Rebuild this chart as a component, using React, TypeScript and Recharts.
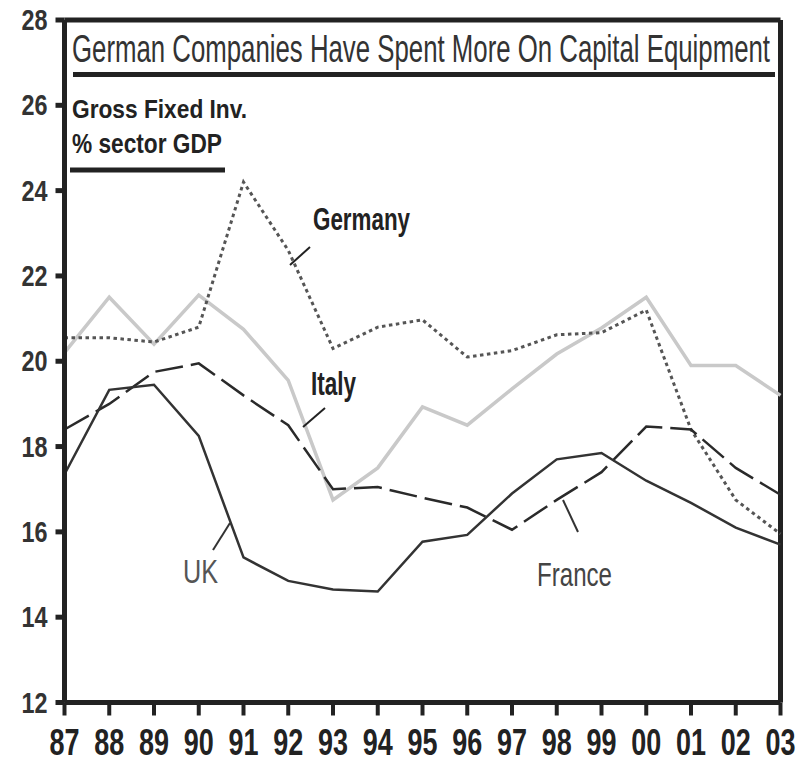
import { LineChart, Line, XAxis, YAxis, ReferenceLine } from 'recharts';

const years = ['87', '88', '89', '90', '91', '92', '93', '94', '95', '96', '97', '98', '99', '00', '01', '02', '03'];
const germany = [20.55, 20.55, 20.45, 20.8, 24.2, 22.6, 20.3, 20.8, 20.97, 20.1, 20.25, 20.62, 20.67, 21.2, 18.4, 16.75, 15.95];
const italy = [20.2, 21.5, 20.4, 21.55, 20.75, 19.55, 16.75, 17.5, 18.93, 18.5, 19.35, 20.17, 20.78, 21.5, 19.9, 19.9, 19.2];
const france = [18.4, 19.0, 19.75, 19.95, 19.2, 18.5, 17.0, 17.05, 16.8, 16.57, 16.05, 16.75, 17.4, 18.47, 18.4, 17.5, 16.87];
const uk = [17.35, 19.33, 19.45, 18.25, 15.4, 14.85, 14.65, 14.6, 15.77, 15.93, 16.9, 17.7, 17.85, 17.2, 16.68, 16.1, 15.7];
const yTicks = [12, 14, 16, 18, 20, 22, 24, 26, 28];

const data = years.map((year, i) => ({
  year,
  germany: germany[i],
  italy: italy[i],
  france: france[i],
  uk: uk[i],
}));

const font = '"Liberation Sans", Arial, sans-serif';
const ink = '#222';

const YTick = ({ x, y, payload }: any) => (
  <text
    x={x - 6}
    y={y + 10}
    textAnchor="end"
    fontFamily={font}
    fontWeight="bold"
    fontSize={30}
    fill="#333"
    textLength={26}
    lengthAdjust="spacingAndGlyphs"
  >
    {payload.value}
  </text>
);

const XTick = ({ x, y, payload }: any) => (
  <text
    x={x - 15}
    y={y + 37}
    fontFamily={font}
    fontWeight="bold"
    fontSize={36}
    fill={ink}
    textLength={30}
    lengthAdjust="spacingAndGlyphs"
  >
    {payload.value}
  </text>
);

export default function App() {
  return (
    <div style={{ position: 'relative', width: 799, height: 754 }}>
      <LineChart
        width={799}
        height={754}
        data={data}
        margin={{ top: 12, right: 26.5, left: 0, bottom: 0 }}
        style={{ overflow: 'visible' }}
      >
        <XAxis
          dataKey="year"
          height={59.5}
          interval={0}
          axisLine={{ stroke: ink, strokeWidth: 5 }}
          tickLine={{ stroke: ink, strokeWidth: 4 }}
          tickSize={13}
          tick={<XTick />}
        />
        <YAxis
          width={56.5}
          domain={[12, 28]}
          ticks={yTicks}
          interval={0}
          axisLine={{ stroke: ink, strokeWidth: 5 }}
          tickLine={{ stroke: ink, strokeWidth: 5 }}
          tickSize={9}
          tick={<YTick />}
        />
        <ReferenceLine y={28} stroke={ink} strokeWidth={5} />
        <ReferenceLine x="03" stroke={ink} strokeWidth={5} />
        <Line
          dataKey="italy"
          stroke="#c9c9c9"
          strokeWidth={3.5}
          dot={false}
          activeDot={false}
          isAnimationActive={false}
        />
        <Line
          dataKey="germany"
          stroke="#555"
          strokeWidth={3}
          strokeDasharray="3.5 3.5"
          dot={false}
          activeDot={false}
          isAnimationActive={false}
        />
        <Line
          dataKey="france"
          stroke="#2a2a2a"
          strokeWidth={2.5}
          strokeDasharray="28 8"
          dot={false}
          activeDot={false}
          isAnimationActive={false}
        />
        <Line
          dataKey="uk"
          stroke="#333"
          strokeWidth={2.5}
          dot={false}
          activeDot={false}
          isAnimationActive={false}
        />
      </LineChart>
      <svg
        width={799}
        height={754}
        style={{ position: 'absolute', left: 0, top: 0, pointerEvents: 'none' }}
      >
        <text x={64} y={54} fontFamily={font} fontSize={38} fill="#333" textLength={698} lengthAdjust="spacingAndGlyphs">
          German Companies Have Spent More On Capital Equipment
        </text>
        <line x1={65} y1={66.5} x2={767} y2={66.5} stroke={ink} strokeWidth={5} />
        <text x={64} y={110} fontFamily={font} fontWeight="bold" fontSize={25} fill={ink} textLength={175} lengthAdjust="spacingAndGlyphs">
          Gross Fixed Inv.
        </text>
        <text x={64} y={145} fontFamily={font} fontWeight="bold" fontSize={27} fill={ink} textLength={150} lengthAdjust="spacingAndGlyphs">
          % sector GDP
        </text>
        <line x1={62} y1={162} x2={217} y2={162} stroke={ink} strokeWidth={5} />

        <text x={305} y={222} fontFamily={font} fontWeight="bold" fontSize={31} fill={ink} textLength={97} lengthAdjust="spacingAndGlyphs">
          Germany
        </text>
        <line x1={282} y1={257} x2={302} y2={239} stroke={ink} strokeWidth={2} />

        <text x={303} y={387} fontFamily={font} fontWeight="bold" fontSize={33} fill={ink} textLength={45} lengthAdjust="spacingAndGlyphs">
          Italy
        </text>
        <line x1={295} y1={419} x2={317} y2={400} stroke={ink} strokeWidth={2} />

        <text x={175} y={575} fontFamily={font} fontSize={34} fill="#555" textLength={35} lengthAdjust="spacingAndGlyphs">
          UK
        </text>
        <line x1={205} y1={542} x2={222} y2={515} stroke="#333" strokeWidth={2} />

        <text x={529} y={578} fontFamily={font} fontSize={34} fill="#444" textLength={75} lengthAdjust="spacingAndGlyphs">
          France
        </text>
        <line x1={570} y1={524} x2={555} y2={492} stroke="#333" strokeWidth={2} />
      </svg>
    </div>
  );
}
